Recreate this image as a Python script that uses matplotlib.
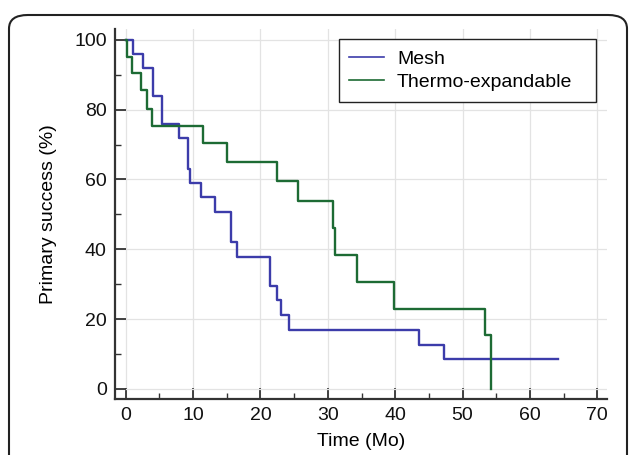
import matplotlib
matplotlib.use("Agg")
import matplotlib.pyplot as plt
from matplotlib.patches import FancyBboxPatch
from matplotlib.lines import Line2D
from matplotlib.ticker import MultipleLocator

plt.rcParams['font.family'] = ['Liberation Sans', 'DejaVu Sans']

mesh_t = [0, 1.0, 2.6, 4.06, 5.45, 7.9, 9.26, 9.6, 11.1, 13.3, 15.56, 16.45, 21.4, 22.4, 23.1, 24.2, 43.6, 47.3, 64.1]
mesh_s = [100, 96, 92, 84, 76, 72, 63, 59, 55, 50.6, 42.2, 37.9, 29.5, 25.5, 21.1, 16.9, 12.7, 8.5, 8.5]
thermo_t = [0, 0.2, 0.85, 2.2, 3.2, 3.86, 11.4, 15.1, 22.4, 25.6, 30.8, 31.05, 34.4, 39.8, 53.4, 54.2]
thermo_s = [100, 95.2, 90.6, 85.5, 80.3, 75.4, 70.4, 65, 59.5, 53.7, 46, 38.4, 30.7, 23, 15.3, 0]

labels = ["Mesh", "Thermo-expandable"]
colors = ["#3c3caa", "#1d6b34"]

W, H = 629, 455
fig = plt.figure(figsize=(W / 100, H / 100), dpi=100)
ax_l, ax_r, ax_t, ax_b = 115, 606.7, 29.3, 399
ax = fig.add_axes([ax_l / W, 1 - ax_b / H, (ax_r - ax_l) / W, (ax_b - ax_t) / H])

# rounded outer frame
frame = FancyBboxPatch((9 / W, -0.1), (627 - 9) / W, 1 - 15 / H + 0.1,
                       boxstyle="round,pad=0,rounding_size=0.03",
                       transform=fig.transFigure, fill=False,
                       edgecolor="#222222", linewidth=1.5, clip_on=False)
fig.patches.append(frame)

ax.step(mesh_t, mesh_s, where='post', color=colors[0], linewidth=1.7)
ax.step(thermo_t, thermo_s, where='post', color=colors[1], linewidth=1.7)

ax.set_xlim(-1.6, 71.4)
ax.set_ylim(-2.9, 103)
ax.xaxis.set_major_locator(MultipleLocator(10))
ax.xaxis.set_minor_locator(MultipleLocator(5))
ax.yaxis.set_major_locator(MultipleLocator(20))
ax.yaxis.set_minor_locator(MultipleLocator(10))
ax.grid(True, which='major', color='#e3e3e3', linewidth=0.9)
ax.set_axisbelow(True)

for s in ['top', 'right']:
    ax.spines[s].set_visible(False)
for s in ['left', 'bottom']:
    ax.spines[s].set_color('#333333')
    ax.spines[s].set_linewidth(1.6)

ax.tick_params(which='major', direction='in', length=8, width=1.3, color='#333333',
               labelsize=14, labelcolor='#111111', pad=6)
ax.tick_params(which='minor', direction='in', length=4, width=1.0, color='#333333')

ax.set_xlabel("Time (Mo)", fontsize=14, labelpad=6)
ax.set_ylabel("Primary success (%)", fontsize=14, labelpad=12)

# legend box in pixel terms -> axes fraction
lx0, lx1, ly0, ly1 = 338.7, 595.7, 39.3, 96.7
aw, ah = ax_r - ax_l, ax_b - ax_t
bbox = ((lx0 - ax_l) / aw, 1 - (ly1 - ax_t) / ah, (lx1 - lx0) / aw, (ly1 - ly0) / ah)

handles = [Line2D([], [], color=colors[0], linewidth=1.2),
           Line2D([], [], color=colors[1], linewidth=1.2)]
leg = ax.legend(handles, labels, loc='upper left', bbox_to_anchor=bbox, mode='expand',
                fontsize=14, frameon=True, fancybox=False, edgecolor='#222222',
                framealpha=1, handlelength=1.8, handletextpad=0.65,
                labelspacing=0.3, borderpad=0.55, borderaxespad=0)
leg.get_frame().set_linewidth(1.0)

fig.savefig("out.png", dpi=100)
